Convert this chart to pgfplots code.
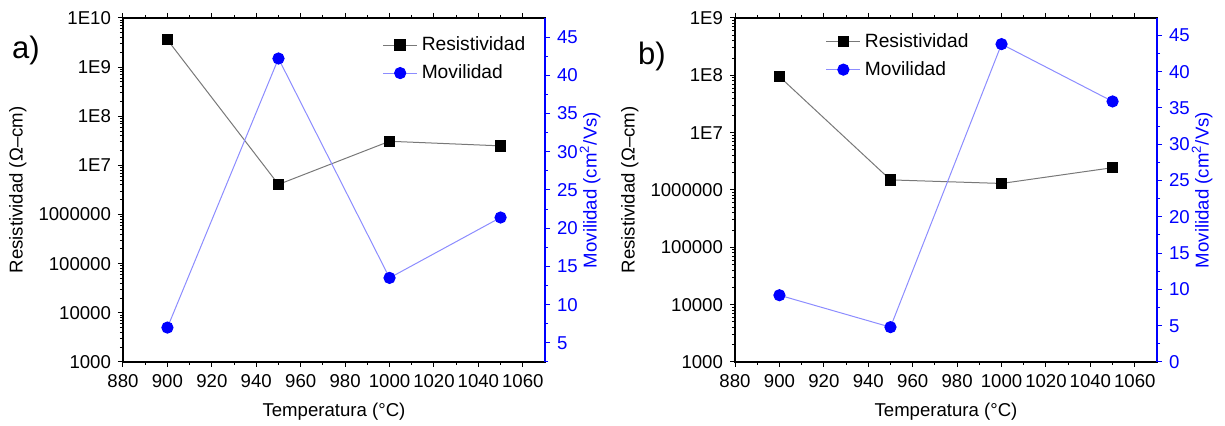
\documentclass[border=0pt]{standalone}
\usepackage{fontspec}
\setmainfont{Liberation Sans}
\usepackage{pgfplots}
\pgfplotsset{compat=1.18}
\pgfkeys{/pgf/number format/.cd, assume math mode=true, set thousands separator={}}
\definecolor{myblue}{RGB}{0,0,255}
\definecolor{lineblue}{RGB}{140,140,255}
\definecolor{linegray}{RGB}{120,120,120}
\pgfplotsset{
  base/.style={scale only axis, width=211pt, height=172pt, anchor=south west,
    xmin=880, xmax=1070,
    tick label style={font=\fontsize{9.3}{10}\selectfont},
    label style={font=\fontsize{9.3}{10}\selectfont},
    major tick length=2.5pt, minor tick length=1.5pt, tick align=outside,
    axis line style={line width=0.6pt}, every tick/.style={line width=0.5pt},
  },
  leftax/.style={base,
    xtick={880,900,...,1060}, minor x tick num=1, xtick pos=both, ytick pos=left,
    xlabel={Temperatura (°C)}, ylabel={Resistividad (Ω–cm)},
    xlabel style={at={(axis description cs:0.5,-0.145)}, anchor=center},
    ylabel style={at={(axis description cs:-0.249,0.5)}, anchor=center},
  },
  rightax/.style={base, axis x line=none, axis y line*=right,
    minor y tick num=1, ytick={0,5,...,45},
    y axis line style={myblue}, ytick style={myblue},
    yticklabel style={myblue},
    ylabel style={myblue, at={(axis description cs:1.107,0.5)}, anchor=center},
    ylabel={Movilidad (cm\textsuperscript{2}/Vs)},
    legend cell align=left,
    legend style={draw=none, fill=none, font=\fontsize{9.6}{10}\selectfont, row sep=1.5pt},
    legend image code/.code={\draw[mark repeat=2,mark phase=2,#1]
      plot coordinates {(0cm,0cm) (0.3cm,0cm) (0.6cm,0cm)};},
  },
  res/.style={linegray, line width=0.5pt, mark=square*, mark size=2.6pt,
    mark options={black, fill=black}},
  mov/.style={lineblue, line width=0.5pt, mark=*, mark size=2.8pt,
    mark options={myblue, fill=myblue}},
}
\begin{document}
\begin{tikzpicture}
\useasboundingbox (0,0) rectangle (612.5pt,213pt);
% ---------- panel a ----------
\begin{axis}[ymode=log, leftax, at={(61.5pt,32pt)}, ymin=1000, ymax=1e10,
  ytick={1000,10000,100000,1000000,1e7,1e8,1e9,1e10},
  yticklabels={1000,10000,100000,1000000,1E7,1E8,1E9,1E10}]
\addplot[res] coordinates {(900,3.6e9) (950,4.1e6) (1000,3.1e7) (1050,2.5e7)};
\end{axis}
\begin{axis}[rightax, at={(61.5pt,32pt)}, ymin=2.5, ymax=47.5,
  legend style={at={(0.6,0.97)}, anchor=north west}]
\addlegendimage{res}
\addlegendentry{Resistividad}
\addplot[mov] coordinates {(900,7.0) (950,42.2) (1000,13.5) (1050,21.4)};
\addlegendentry{Movilidad}
\end{axis}
\node[font=\fontsize{15.5}{16}\selectfont] at (13pt,188pt) {a)};
% ---------- panel b ----------
\begin{axis}[ymode=log, leftax, at={(367.5pt,32pt)}, ymin=1000, ymax=1e9,
  ytick={1000,10000,100000,1000000,1e7,1e8,1e9},
  yticklabels={1000,10000,100000,1000000,1E7,1E8,1E9}]
\addplot[res] coordinates {(900,9.5e7) (950,1.5e6) (1000,1.3e6) (1050,2.45e6)};
\end{axis}
\begin{axis}[rightax, at={(367.5pt,32pt)}, ymin=0, ymax=47.4,
  legend style={at={(0.2,0.98)}, anchor=north west}]
\addlegendimage{res}
\addlegendentry{Resistividad}
\addplot[mov] coordinates {(900,9.2) (950,4.8) (1000,43.8) (1050,35.9)};
\addlegendentry{Movilidad}
\end{axis}
\node[font=\fontsize{15.5}{16}\selectfont] at (326pt,185pt) {b)};
\end{tikzpicture}
\end{document}
